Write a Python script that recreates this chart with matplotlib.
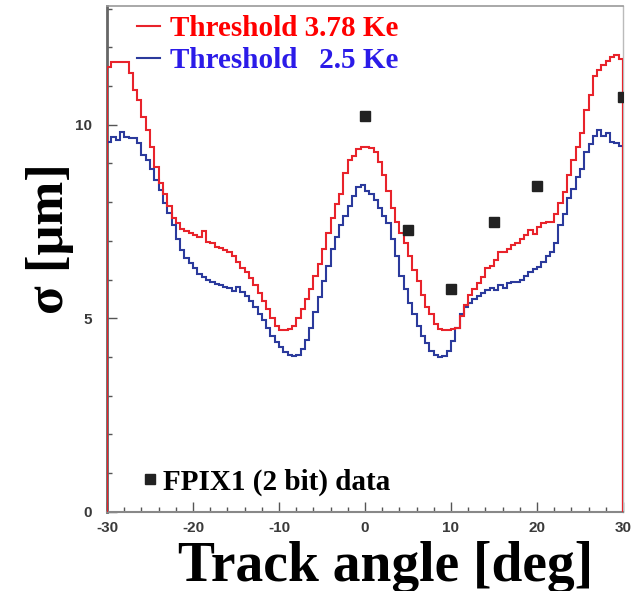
import numpy as np
import matplotlib
import matplotlib.pyplot as plt
from matplotlib.lines import Line2D

matplotlib.use("Agg")
plt.rcParams["axes.unicode_minus"] = False

# track angle bins, 0.5 deg wide
angle_edges = np.arange(-30, 30.01, 0.5)

# sigma [um] per bin, threshold 3.78 Ke
sigma_378 = [
    11.5, 11.63, 11.63, 11.63, 11.63, 11.33, 10.9, 10.64, 10.21, 9.86,
    9.43, 8.92, 8.49, 8.2, 7.9, 7.6, 7.45, 7.3, 7.25, 7.2,
    7.15, 7.1, 7.25, 6.98, 6.94, 6.85, 6.81, 6.76, 6.7, 6.6,
    6.45, 6.3, 6.2, 6.05, 5.85, 5.65, 5.45, 5.25, 5.0, 4.8,
    4.7, 4.7, 4.72, 4.8, 5.0, 5.25, 5.5, 5.75, 6.1, 6.4,
    6.8, 7.2, 7.6, 7.95, 8.2, 8.75, 9.1, 9.2, 9.38, 9.43,
    9.43, 9.4, 9.3, 9.05, 8.7, 8.3, 7.85, 7.5, 7.2, 6.95,
    6.6, 6.25, 5.95, 5.6, 5.3, 5.1, 4.85, 4.72, 4.7, 4.7,
    4.72, 4.75, 5.05, 5.35, 5.6, 5.75, 5.9, 6.07, 6.3, 6.35,
    6.5, 6.72, 6.7, 6.8, 6.9, 6.95, 7.05, 7.15, 7.28, 7.19,
    7.36, 7.45, 7.49, 7.49, 7.7, 7.97, 8.27, 8.7, 9.09, 9.43,
    9.8, 10.38, 10.77, 11.25, 11.42, 11.55, 11.65, 11.76, 11.8, 11.7,
]

# sigma [um] per bin, threshold 2.5 Ke
sigma_25 = [
    9.56, 9.69, 9.6, 9.82, 9.68, 9.65, 9.65, 9.52, 9.22, 9.09,
    8.87, 8.57, 8.32, 7.97, 7.71, 7.4, 7.05, 6.76, 6.55, 6.42,
    6.3, 6.15, 6.07, 5.98, 5.94, 5.88, 5.86, 5.82, 5.77, 5.7,
    5.8, 5.68, 5.58, 5.45, 5.3, 5.1, 4.95, 4.75, 4.55, 4.38,
    4.25, 4.12, 4.05, 4.03, 4.05, 4.2, 4.45, 4.75, 5.15, 5.55,
    5.95, 6.35, 6.8, 7.1, 7.4, 7.65, 7.9, 8.15, 8.4, 8.45,
    8.3, 8.2, 8.05, 7.85, 7.65, 7.45, 7.05, 6.6, 6.1, 5.75,
    5.4, 5.1, 4.8, 4.55, 4.35, 4.15, 4.05, 4.0, 4.02, 4.15,
    4.4, 4.75, 5.1, 5.3, 5.4, 5.5, 5.58, 5.65, 5.73, 5.77,
    5.73, 5.86, 5.77, 5.9, 5.94, 5.94, 5.99, 6.08, 6.2, 6.28,
    6.33, 6.45, 6.6, 6.72, 6.95, 7.4, 7.7, 8.1, 8.35, 8.65,
    8.87, 9.3, 9.5, 9.7, 9.87, 9.7, 9.78, 9.56, 9.52, 9.45,
]

# FPIX1 (2 bit) measurements
data_angle = [0, 5, 10, 15, 20, 30]
data_sigma = [10.22, 7.27, 5.75, 7.5, 8.41, 10.71]

RED = "#e8232b"
BLUE = "#2b3a9c"
SERIF = "Liberation Serif"

fig = plt.figure(figsize=(6.34, 5.91), dpi=100)
ax = fig.add_axes([0.1688, 0.1342, 0.8138, 0.8556])

ax.stairs(sigma_25, angle_edges, color=BLUE, linewidth=1.5, zorder=3)
ax.stairs(sigma_378, angle_edges, color=RED, linewidth=1.5, zorder=3)
ax.vlines(angle_edges[-1], 0, sigma_378[-1], color=RED, linewidth=1.5, zorder=3)
ax.plot(data_angle, data_sigma, "s", color="#222222", markersize=7, zorder=4)

ax.set_xlim(-30, 30)
ax.set_ylim(0, 13.07)
ax.set_xticks(np.arange(-30, 31, 10))
ax.set_xticks(np.arange(-30, 31, 2), minor=True)
ax.set_yticks([0, 5, 10])
ax.set_yticks(np.arange(0, 14, 1), minor=True)

ax.tick_params(which="both", direction="in", color="#555555", width=1)
ax.tick_params(which="major", length=7)
ax.tick_params(which="minor", length=3.6)
ax.tick_params(axis="x", pad=7)
ax.tick_params(axis="y", pad=11)
for lab in ax.get_xticklabels() + ax.get_yticklabels():
    lab.set_fontfamily("Liberation Sans")
    lab.set_fontweight("bold")
    lab.set_fontsize(11)
    lab.set_color("#3a3a3a")

ax.spines["left"].set_color("#666666")
ax.spines["left"].set_linewidth(2)
ax.spines["bottom"].set_color("#888888")
ax.spines["bottom"].set_linewidth(1.5)
ax.spines["top"].set_color("#999999")
ax.spines["top"].set_linewidth(1.2)
ax.spines["right"].set_color("#bbbbbb")
ax.spines["right"].set_linewidth(1)

ax.set_ylabel("σ [μm]", fontsize=38, fontweight="bold", family=SERIF)
ax.yaxis.set_label_coords(-0.064, 0.54)
ax.set_xlabel("Track angle [deg]", fontsize=40, fontweight="bold", family=SERIF)
ax.xaxis.set_label_coords(0.54, -0.057)

handles = [
    Line2D([], [], color=RED, linewidth=1.5),
    Line2D([], [], color=BLUE, linewidth=1.5),
]
leg = ax.legend(
    handles,
    ["Threshold 3.78 Ke", "Threshold   2.5 Ke"],
    loc="upper left",
    bbox_to_anchor=(0.058, 0.982),
    frameon=False,
    borderpad=0,
    borderaxespad=0,
    handlelength=0.8,
    handletextpad=0.35,
    labelspacing=0.17,
    prop={"family": SERIF, "weight": "bold", "size": 21},
)
for txt, c in zip(leg.get_texts(), ["#ff0000", "#2b1be8"]):
    txt.set_color(c)
ax.add_artist(leg)

data_handle = Line2D([], [], marker="s", linestyle="none", color="#222222", markersize=6.5)
ax.legend(
    [data_handle],
    ["FPIX1 (2 bit) data"],
    loc="lower left",
    bbox_to_anchor=(0.067, 0.032),
    frameon=False,
    borderpad=0,
    borderaxespad=0,
    handlelength=0.6,
    handletextpad=0.15,
    prop={"family": SERIF, "weight": "bold", "size": 21},
)

fig.savefig("out.png", dpi=100)
